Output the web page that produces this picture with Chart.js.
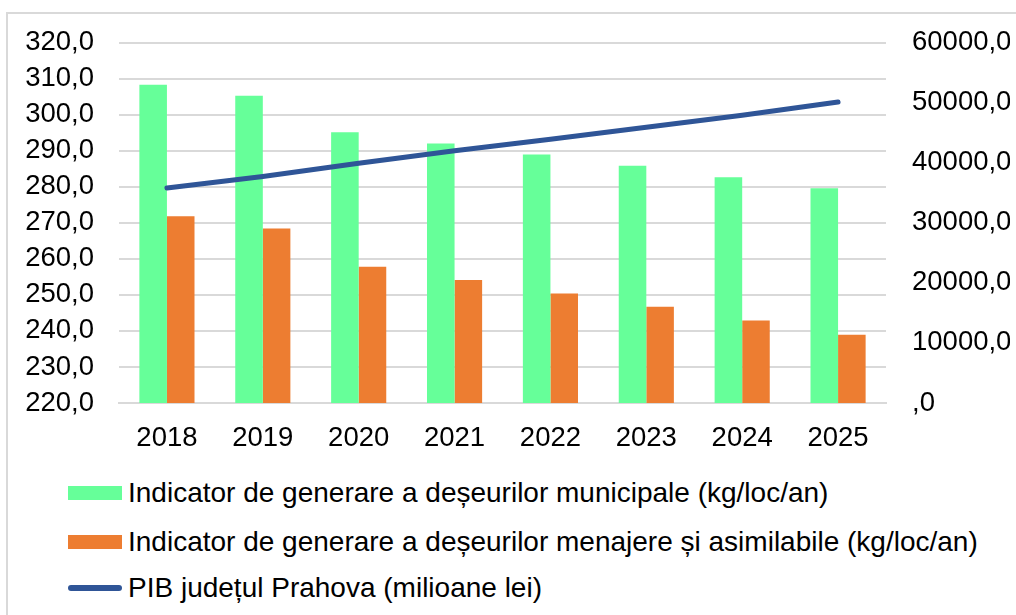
<!DOCTYPE html>
<html>
<head>
<meta charset="utf-8">
<script src="https://cdn.jsdelivr.net/npm/chart.js@4/dist/chart.umd.min.js"></script>
<style>
  html, body { margin: 0; padding: 0; background: #fff; width: 1016px; height: 615px; overflow: hidden; }
  #frame { position: absolute; left: 6px; top: 12px; width: 1100px; height: 700px;
           border-left: 2px solid #d9d9d9; border-top: 2px solid #d9d9d9; }
  #wrap { position: absolute; left: 0; top: 0; width: 1016px; height: 460px; }
  #legend { position: absolute; left: 68px; top: 0; font-family: "Liberation Sans", Arial, sans-serif; font-size: 28px; color: #000; }
  .item { position: absolute; left: 0; height: 28px; display: flex; align-items: center; white-space: nowrap; line-height: 28px; }
  .swatch { width: 54px; height: 14px; margin-right: 6px; flex: none; }
  .lineSwatch { width: 54px; height: 6px; border-radius: 3px; margin-right: 6px; flex: none; }
</style>
</head>
<body>
<div id="frame"></div>
<div id="wrap"><canvas id="c" width="1016" height="460"></canvas></div>
<div id="legend"></div>
<script>
const categories = ['2018', '2019', '2020', '2021', '2022', '2023', '2024', '2025'];
const municipalWaste = [308.3, 305.2, 295.1, 292.0, 288.9, 285.8, 282.6, 279.6];
const householdWaste = [271.8, 268.4, 257.8, 254.1, 250.4, 246.7, 242.9, 238.9];
const gdpPrahova = [35800, 37700, 39900, 42000, 43900, 45900, 47900, 50100];
const leftTickLabels = ['220,0', '230,0', '240,0', '250,0', '260,0', '270,0', '280,0', '290,0', '300,0', '310,0', '320,0'];
const rightTickLabels = [',0', '10000,0', '20000,0', '30000,0', '40000,0', '50000,0', '60000,0'];
const seriesNames = [
  'Indicator de generare a deșeurilor municipale (kg/loc/an)',
  'Indicator de generare a deșeurilor menajere și asimilabile (kg/loc/an)',
  'PIB județul Prahova (milioane lei)'
];
const colors = ['#66FF99', '#ED7D31', '#2F5597'];

const FONT = '"Liberation Sans", Arial, sans-serif';
const tickFont = { family: FONT, size: 27.5 };

const chart = new Chart(document.getElementById('c'), {
  data: {
    labels: categories,
    datasets: [
      { type: 'line', label: seriesNames[2], data: gdpPrahova, yAxisID: 'y1',
        borderColor: colors[2], borderWidth: 5, pointRadius: 0, borderCapStyle: 'round',
        borderJoinStyle: 'round', tension: 0, order: 0, fill: false },
      { type: 'bar', label: seriesNames[0], data: municipalWaste, yAxisID: 'y',
        backgroundColor: colors[0], borderWidth: 0, order: 1,
        barPercentage: 1, categoryPercentage: 0.575 },
      { type: 'bar', label: seriesNames[1], data: householdWaste, yAxisID: 'y',
        backgroundColor: colors[1], borderWidth: 0, order: 1,
        barPercentage: 1, categoryPercentage: 0.575 }
    ]
  },
  options: {
    responsive: false,
    animation: false,
    events: [],
    layout: { padding: { left: 26, right: 6, top: 42, bottom: 8 } },
    plugins: { legend: { display: false }, tooltip: { enabled: false } },
    scales: {
      x: {
        grid: { display: false, drawTicks: false },
        border: { display: true, color: '#d9d9d9', width: 2 },
        ticks: { font: tickFont, color: '#000', padding: 19, maxRotation: 0, autoSkip: false },
        afterFit: (s) => { s.height = 49; }
      },
      y: {
        position: 'left', min: 220, max: 320,
        grid: { color: '#d9d9d9', lineWidth: 2, drawTicks: false },
        border: { display: false },
        ticks: { stepSize: 10, font: tickFont, color: '#000', padding: 25, autoSkip: false,
                 callback: (v, i) => leftTickLabels[i] },
        afterFit: (s) => { s.width = 93; }
      },
      y1: {
        position: 'right', min: 0, max: 60000,
        grid: { drawOnChartArea: false, drawTicks: false },
        border: { display: false },
        ticks: { stepSize: 10000, font: tickFont, color: '#000', padding: 26, autoSkip: false,
                 callback: (v, i) => rightTickLabels[i] },
        afterFit: (s) => { s.width = 124; }
      }
    }
  }
});

// HTML legend built from the datasets
const legend = document.getElementById('legend');
const rowTops = [479, 528, 574];
[1, 2, 0].forEach((di, r) => {
  const ds = chart.data.datasets[di];
  const item = document.createElement('div');
  item.className = 'item';
  item.style.top = rowTops[r] + 'px';
  const sw = document.createElement('span');
  if (ds.type === 'line') { sw.className = 'lineSwatch'; sw.style.background = ds.borderColor; }
  else { sw.className = 'swatch'; sw.style.background = ds.backgroundColor; }
  const tx = document.createElement('span');
  tx.textContent = ds.label;
  item.appendChild(sw); item.appendChild(tx);
  legend.appendChild(item);
});
</script>
</body>
</html>
